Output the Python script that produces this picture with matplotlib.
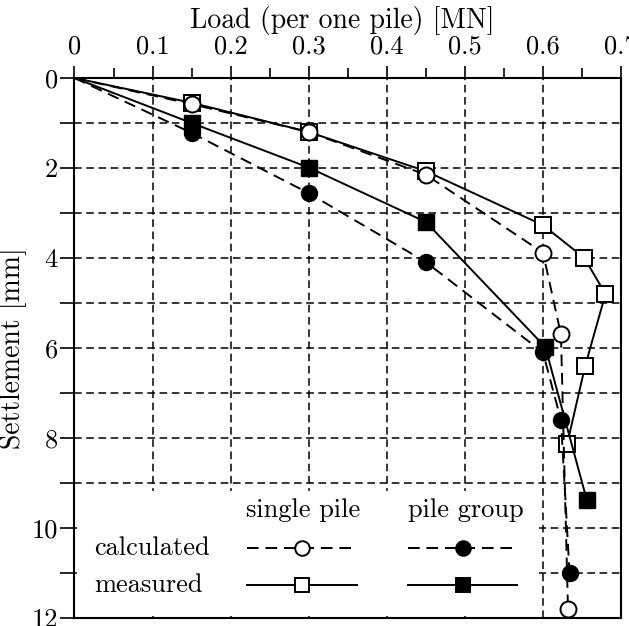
import matplotlib
matplotlib.use("Agg")
import matplotlib.pyplot as plt
from matplotlib.ticker import MultipleLocator, FormatStrFormatter

plt.rcParams['font.family'] = ['cmr10', 'DejaVu Serif']
plt.rcParams['axes.unicode_minus'] = False
plt.rcParams['mathtext.fontset'] = 'cm'

# load [MN] / settlement [mm]
load_single_calc = [0, 0.15, 0.30, 0.45, 0.60, 0.623, 0.632]
sett_single_calc = [0, 0.58, 1.20, 2.15, 3.88, 5.70, 11.80]

load_single_meas = [0, 0.15, 0.30, 0.45, 0.60, 0.653, 0.680, 0.654, 0.631]
sett_single_meas = [0, 0.55, 1.20, 2.07, 3.27, 4.00, 4.80, 6.40, 8.13]

load_group_calc = [0, 0.15, 0.30, 0.45, 0.60, 0.623, 0.634]
sett_group_calc = [0, 1.22, 2.56, 4.09, 6.10, 7.60, 11.00]

load_group_meas = [0, 0.15, 0.30, 0.45, 0.603, 0.656]
sett_group_meas = [0, 1.00, 1.99, 3.20, 5.98, 9.37]

fs = 19
dash = (0, (6, 3.5))
grid_ls = (0, (5, 3))

fig = plt.figure(figsize=(6.29, 6.26), dpi=100)
ax = fig.add_axes([0.1184, 0.0128, 0.869, 0.8626])

ax.set_xlim(0, 0.7)
ax.set_ylim(12, 0)

ax.xaxis.tick_top()
ax.xaxis.set_major_locator(MultipleLocator(0.1))
ax.xaxis.set_minor_locator(MultipleLocator(0.05))
ax.xaxis.set_major_formatter(FormatStrFormatter('%g'))
ax.yaxis.set_major_locator(MultipleLocator(2))
ax.yaxis.set_minor_locator(MultipleLocator(1))
ax.yaxis.set_major_formatter(FormatStrFormatter('%g'))

ax.tick_params(axis='x', which='major', direction='out', length=9, width=1.2,
               labelsize=fs, pad=5, top=True, bottom=False)
ax.tick_params(axis='x', which='minor', direction='out', length=7, width=1.2,
               top=True, bottom=False)
ax.tick_params(axis='y', which='both', direction='out', length=10, width=1.2,
               labelsize=fs, pad=2)

ax.grid(True, which='major', axis='x', color='black', linestyle=grid_ls, linewidth=1.1)
ax.grid(True, which='both', axis='y', color='black', linestyle=grid_ls, linewidth=1.1)

for s in ax.spines.values():
    s.set_linewidth(1.5)

ms = 11.5
skip0 = slice(1, None)
ax.plot(load_single_meas, sett_single_meas, '-', color='black', lw=1.4, markevery=skip0,
        marker='s', ms=ms, mfc='white', mec='black', mew=1.4, zorder=3)
ax.plot(load_group_meas, sett_group_meas, '-', color='black', lw=1.4, markevery=skip0,
        marker='s', ms=ms, mfc='black', mec='black', zorder=3)
ax.plot(load_single_calc, sett_single_calc, linestyle=dash, color='black', lw=1.4,
        markevery=skip0, marker='o', ms=ms, mfc='white', mec='black', mew=1.4, zorder=4)
ax.plot(load_group_calc, sett_group_calc, linestyle=dash, color='black', lw=1.4,
        markevery=skip0, marker='o', ms=ms, mfc='black', mec='black', zorder=4)

ax.set_xlabel('Load (per one pile) [MN]', fontsize=20)
ax.xaxis.set_label_position('top')
ax.xaxis.set_label_coords(0.49, 1.092)
ax.set_ylabel('Settlement [mm]', fontsize=20)
ax.yaxis.set_label_coords(-0.086, 0.5)


# hand-made legend (white box, two columns, two rows)
def sample(x0, x1, y, ls, marker, fill):
    ax.plot([x0, x1], [y, y], linestyle=ls, color='black', lw=1.4,
            transform=ax.transAxes, zorder=6, clip_on=False)
    ax.plot([(x0 + x1) / 2], [y], marker=marker, ms=10.5, mfc=fill, mec='black',
            mew=1.4, transform=ax.transAxes, zorder=7, linestyle='none')


ax.add_patch(plt.Rectangle((0.004, 0.004), 0.846, 0.232, transform=ax.transAxes,
                           facecolor='white', edgecolor='none', zorder=5))
ax.text(0.419, 0.199, 'single pile', transform=ax.transAxes, fontsize=fs,
        ha='center', va='center', zorder=6)
ax.text(0.716, 0.199, 'pile group', transform=ax.transAxes, fontsize=fs,
        ha='center', va='center', zorder=6)
ax.text(0.036, 0.129, 'calculated', transform=ax.transAxes, fontsize=fs,
        ha='left', va='center', zorder=6)
ax.text(0.036, 0.061, 'measured', transform=ax.transAxes, fontsize=fs,
        ha='left', va='center', zorder=6)
sample(0.316, 0.517, 0.129, dash, 'o', 'white')
sample(0.316, 0.517, 0.061, '-', 's', 'white')
sample(0.610, 0.810, 0.129, dash, 'o', 'black')
sample(0.610, 0.810, 0.061, '-', 's', 'black')

fig.savefig('out.png', dpi=100)
